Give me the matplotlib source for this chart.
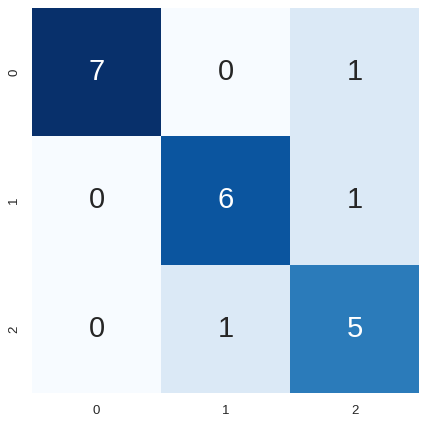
import numpy as np
import matplotlib
matplotlib.use('Agg')
import matplotlib.pyplot as plt
import seaborn as sns

labels = ['0', '1', '2']
cm = np.array([[7, 0, 1],
               [0, 6, 1],
               [0, 1, 5]])

sns.set_theme(style='white')
plt.rcParams['font.family'] = ['Liberation Sans', 'DejaVu Sans']

fig = plt.figure(figsize=(4.29, 4.26), dpi=100)
ax = fig.add_axes([32 / 429, 33 / 426, 387 / 429, 385 / 426])
sns.heatmap(cm, annot=True, fmt='d', cmap='Blues', cbar=False, ax=ax,
            xticklabels=labels, yticklabels=labels,
            annot_kws={'size': 21})
ax.tick_params(axis='both', labelsize=9.5, length=0, pad=8.5)
ax.set_yticklabels(labels, rotation=90, va='center')
fig.savefig('out.png', dpi=100)
